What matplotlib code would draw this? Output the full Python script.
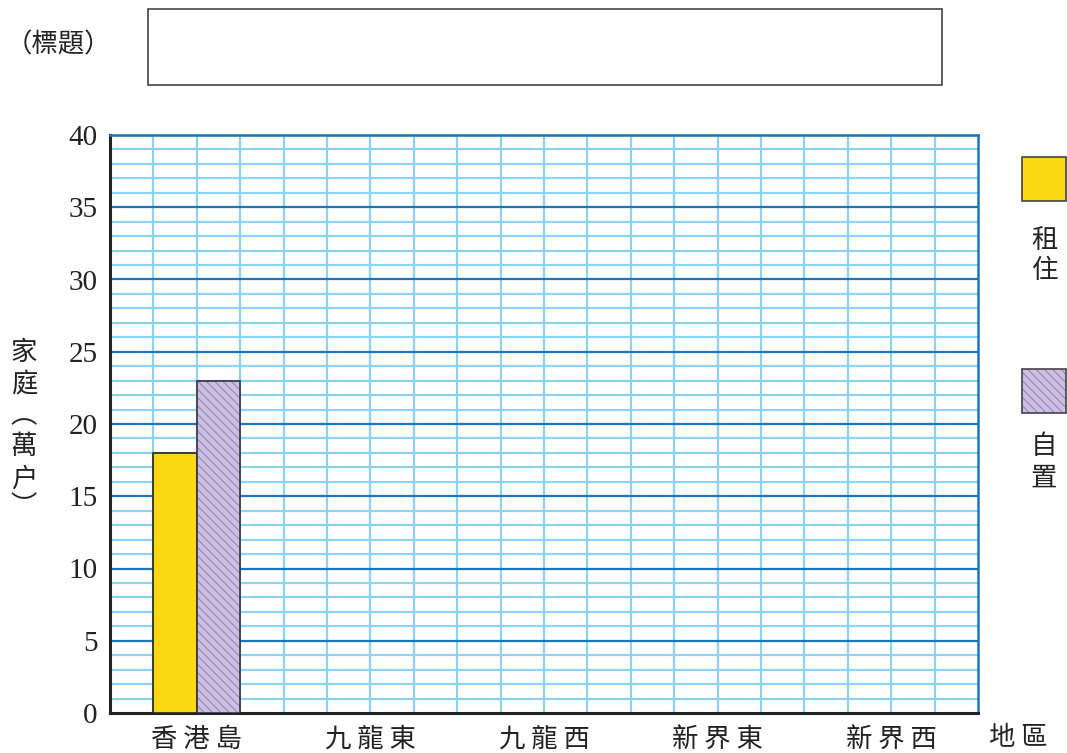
import matplotlib.pyplot as plt
import matplotlib.patches as mpatches
import numpy as np

plt.rcParams['font.family'] = ['Noto Sans CJK TC', 'DejaVu Sans']
plt.rcParams['hatch.linewidth'] = 0.8

# data
districts = ['香港島', '九龍東', '九龍西', '新界東', '新界西']
rent = [18, 0, 0, 0, 0]
own = [23, 0, 0, 0, 0]
yticks = [0, 5, 10, 15, 20, 25, 30, 35, 40]

yellow = '#fdd915'
purple = '#cdbfe0'
hatch_col = '#9585bb'
light_blue = '#8dd3f1'
dark_blue = '#1b75bb'
txt = '#222222'
fs = 19

fig = plt.figure(figsize=(10.67, 7.53), dpi=100)
ax = fig.add_axes([110/1067, 1-713/753, (978-110)/1067, (713-135)/753])

ax.set_xlim(0, 20)
ax.set_ylim(0, 40)

# grid
for xv in range(1, 20):
    ax.axvline(xv, color=light_blue, lw=1.6, zorder=0)
for yv in range(1, 40):
    if yv % 5 == 0:
        continue
    ax.axhline(yv, color=light_blue, lw=1.6, zorder=0)
for yv in range(5, 41, 5):
    ax.axhline(yv, color=dark_blue, lw=1.6, zorder=1)

centers = np.arange(len(districts)) * 4 + 2
ax.bar(centers - 0.5, rent, width=1, color=yellow, edgecolor='#222222', lw=1.2, zorder=3)
bars = ax.bar(centers + 0.5, own, width=1, color=purple, edgecolor=hatch_col, lw=0,
              hatch='\\\\\\\\', zorder=3)
# outline for the hatched bars
for c, v in zip(centers, own):
    if v > 0:
        ax.add_patch(mpatches.Rectangle((c, 0), 1, v, fill=False, ec='#333344', lw=1.2, zorder=4))

ax.spines['left'].set_color('#222222')
ax.spines['left'].set_linewidth(2.2)
ax.spines['bottom'].set_color('#222222')
ax.spines['bottom'].set_linewidth(2.2)
ax.spines['right'].set_color(dark_blue)
ax.spines['right'].set_linewidth(1.8)
ax.spines['top'].set_color(dark_blue)
ax.spines['top'].set_linewidth(1.8)

ax.set_yticks(yticks)
ax.set_yticklabels([str(t) for t in yticks], family='Liberation Serif', fontsize=21, color=txt)
ax.set_xticks(centers)
ax.set_xticklabels([' '.join(d) for d in districts], fontsize=fs, color=txt)
ax.tick_params(axis='both', length=0)
ax.tick_params(axis='y', pad=9)
ax.tick_params(axis='x', pad=9)

# y label, vertical
ylab = ['家', '庭', '︵', '萬', '户', '︶']
ys = [352, 385, 416, 447, 479, 507]
for ch, yy in zip(ylab, ys):
    fig.text(24/1067, 1-yy/753, ch, fontsize=fs, ha='center', va='center', color=txt)

fig.text(1018/1067, 1-738/753, '地 區', fontsize=fs, ha='center', va='center', color=txt)

# title box
fig.add_artist(mpatches.Rectangle((148/1067, 1-85/753), (942-148)/1067, (85-9)/753,
                                  transform=fig.transFigure, fill=False, ec='#444444', lw=1.2))
fig.text(58/1067, 1-45/753, '（標題）', fontsize=fs, ha='center', va='center', color=txt)

# legend
fig.add_artist(mpatches.Rectangle((1022/1067, 1-201/753), 44/1067, 44/753,
                                  transform=fig.transFigure, fc=yellow, ec='#444444', lw=1.2))
fig.add_artist(mpatches.Rectangle((1022/1067, 1-413/753), 44/1067, 44/753,
                                  transform=fig.transFigure, fc=purple, ec=hatch_col,
                                  hatch='\\\\\\\\', lw=0))
fig.add_artist(mpatches.Rectangle((1022/1067, 1-413/753), 44/1067, 44/753,
                                  transform=fig.transFigure, fill=False, ec='#444444', lw=1.2))
for ch, yy in zip(['租', '住'], [240, 270]):
    fig.text(1044/1067, 1-yy/753, ch, fontsize=fs, ha='center', va='center', color=txt)
for ch, yy in zip(['自', '置'], [446, 478]):
    fig.text(1044/1067, 1-yy/753, ch, fontsize=fs, ha='center', va='center', color=txt)

fig.savefig('out.png', dpi=100)
